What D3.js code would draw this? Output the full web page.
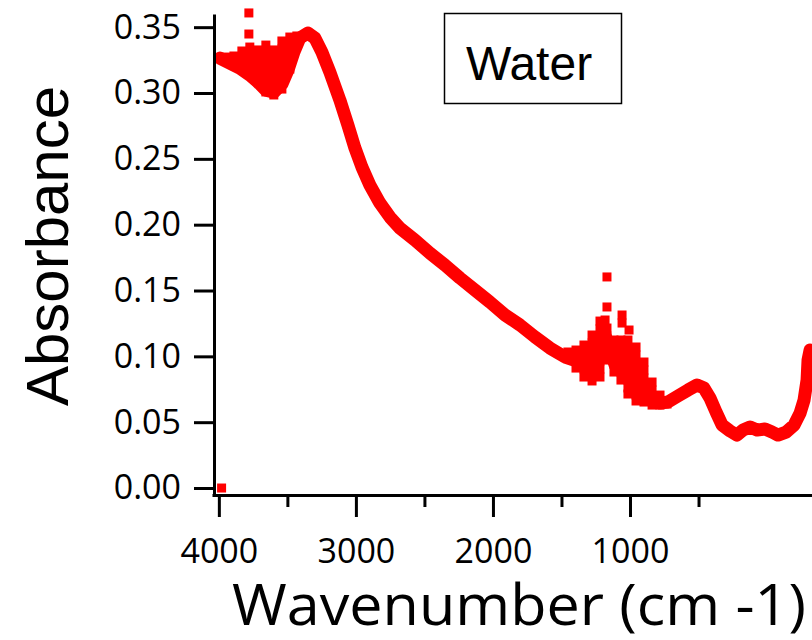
<!DOCTYPE html>
<html>
<head>
<meta charset="utf-8">
<script src="https://cdn.jsdelivr.net/npm/d3@7"></script>
<style>
  body { margin: 0; background: #fff; }
  svg { display: block; }
</style>
</head>
<body>
<div id="chart"></div>
<script>
// Absorbance spectrum of water
const mainWave = [3993, 3920, 3847, 3774, 3715, 3657, 3598, 3540, 3496, 3452, 3409, 3350,
    3299, 3248, 3190, 3117, 3058, 3007, 2956, 2898, 2825, 2752, 2679, 2569, 2460, 2350,
    2241, 2131, 2022, 1912, 1803, 1693, 1584, 1474, 1365, 1277, 1219, 1182, 1146, 1109,
    1058, 1000, 927, 854, 781, 723, 650, 577, 511, 460, 416, 372, 328, 270, 219, 175,
    124, 73, 15, -36, -80, -139, -197, -241, -270, -292, -299, -314];
const mainAbs = [0.3265, 0.3227, 0.3189, 0.3136, 0.3083, 0.3022, 0.3007, 0.3068, 0.3174,
    0.3311, 0.3417, 0.3455, 0.3417, 0.3311, 0.3159, 0.2946, 0.2756, 0.2582, 0.2437, 0.2301,
    0.2164, 0.2058, 0.1974, 0.1883, 0.1784, 0.1693, 0.1595, 0.1503, 0.1412, 0.1314, 0.1238,
    0.1147, 0.1063, 0.0995, 0.0957, 0.0957, 0.1048, 0.1162, 0.1048, 0.0934, 0.0881, 0.0835,
    0.0759, 0.0683, 0.0645, 0.0653, 0.0699, 0.0744, 0.0782, 0.0759, 0.0683, 0.0577, 0.0478,
    0.0433, 0.0402, 0.0440, 0.0463, 0.0440, 0.0448, 0.0425, 0.0402, 0.0425, 0.0478, 0.0569,
    0.0668, 0.0820, 0.0972, 0.1048];

// noisy points, O-H stretch region
const ohWave = [3949, 3890, 3890, 3832, 3832, 3832, 3774, 3774, 3774, 3774, 3781, 3781,
    3715, 3715, 3715, 3715, 3715, 3657, 3657, 3657, 3657, 3657, 3657, 3657,
    3599, 3599, 3599, 3599, 3599, 3599, 3599, 3540, 3540, 3540, 3540, 3540, 3540, 3540,
    3482, 3482, 3482, 3482, 3482, 3431, 3431];
const ohAbs = [0.3273, 0.3281, 0.3228, 0.3319, 0.3258, 0.3198, 0.3349, 0.3289, 0.3228,
    0.3167, 0.3448, 0.3608, 0.3327, 0.3266, 0.3205, 0.3144, 0.3084, 0.3364, 0.3304, 0.3243,
    0.3182, 0.3121, 0.3061, 0.3008, 0.3327, 0.3266, 0.3205, 0.3144, 0.3084, 0.3023, 0.2985,
    0.3395, 0.3334, 0.3273, 0.3213, 0.3152, 0.3091, 0.3030, 0.3425, 0.3364, 0.3304, 0.3243,
    0.3182, 0.3433, 0.3372];

// noisy points, H-O-H bend region
const bendWave = [1453, 1394, 1394, 1394, 1336, 1336, 1336, 1336, 1336, 1277, 1277, 1277,
    1277, 1277, 1277, 1277, 1219, 1219, 1219, 1219, 1219, 1219, 1219, 1219, 1168, 1168,
    1182, 1168, 1168, 1168, 1168, 1168, 1117, 1117, 1117, 1117, 1117, 1058, 1058, 1066,
    1066, 1066, 1066, 1066, 1066, 1007, 1015, 1015, 1015, 1015, 1015, 1015, 1015, 1015,
    956, 956, 956, 956, 956, 956, 956, 956, 898, 898, 898, 898, 898, 898, 839, 839, 839,
    839, 781, 781, 730];
const bendAbs = [0.1033, 0.1048, 0.0987, 0.0911, 0.1086, 0.1025, 0.0965, 0.0904, 0.0843,
    0.1162, 0.1101, 0.1041, 0.0980, 0.0919, 0.0858, 0.0813, 0.1268, 0.1208, 0.1147, 0.1086,
    0.1025, 0.0965, 0.0904, 0.0843, 0.1603, 0.1375, 0.1276, 0.1215, 0.1154, 0.1094, 0.1033,
    0.0972, 0.1124, 0.1063, 0.1003, 0.0942, 0.0881, 0.1314, 0.1253, 0.1124, 0.1063, 0.1003,
    0.0942, 0.0881, 0.0820, 0.1200, 0.1124, 0.1063, 0.1003, 0.0942, 0.0881, 0.0820, 0.0760,
    0.0714, 0.1071, 0.1010, 0.0949, 0.0889, 0.0828, 0.0767, 0.0706, 0.0661, 0.0957, 0.0896,
    0.0835, 0.0775, 0.0714, 0.0653, 0.0805, 0.0744, 0.0684, 0.0630, 0.0706, 0.0630, 0.0638];

// stray point at the start of the scan
const strayWave = [3980];
const strayAbs = [0.0];

const xMajor = [4000, 3000, 2000, 1000];
const xMinor = [3500, 2500, 1500, 500];
const yTicks = [0, 0.05, 0.10, 0.15, 0.20, 0.25, 0.30, 0.35];

const width = 812, height = 640;
const red = '#ff0000';

const svg = d3.select('#chart').append('svg')
    .attr('width', width)
    .attr('height', height);

svg.append('rect').attr('width', width).attr('height', height).attr('fill', '#fff');

const x = d3.scaleLinear().domain([4050, -328]).range([212, 812]);
const y = d3.scaleLinear().domain([-0.0053, 0.36]).range([495, 14]);

const mainData = mainWave.map((w, i) => ({w: w, a: mainAbs[i]}));
const noiseData = []
    .concat(ohWave.map((w, i) => ({w: w, a: ohAbs[i]})))
    .concat(bendWave.map((w, i) => ({w: w, a: bendAbs[i]})))
    .concat(strayWave.map((w, i) => ({w: w, a: strayAbs[i]})));

// thick band of the spectrum
const line = d3.line().x(d => x(d.w)).y(d => y(d.a));
svg.append('path')
    .datum(mainData)
    .attr('d', line)
    .attr('fill', 'none')
    .attr('stroke', red)
    .attr('stroke-width', 13)
    .attr('stroke-linejoin', 'round')
    .attr('stroke-linecap', 'round');

const sq = 9;
svg.append('g')
    .selectAll('rect')
    .data(noiseData)
    .enter().append('rect')
    .attr('x', d => x(d.w) - sq / 2)
    .attr('y', d => y(d.a) - sq / 2)
    .attr('width', sq)
    .attr('height', sq)
    .attr('fill', red);

// axes
const tickFont = "'Open Sans', sans-serif";

svg.append('g')
    .attr('transform', 'translate(0,495)')
    .call(d3.axisBottom(x).tickValues(xMajor).tickSize(22).tickSizeOuter(0)
        .tickPadding(22).tickFormat(d3.format('d')));

svg.append('g')
    .attr('transform', 'translate(0,495)')
    .call(d3.axisBottom(x).tickValues(xMinor).tickSize(12).tickSizeOuter(0)
        .tickFormat(''))
    .select('.domain').remove();

svg.append('g')
    .attr('transform', 'translate(214,0)')
    .call(d3.axisLeft(y).tickValues(yTicks).tickSize(20).tickSizeOuter(0)
        .tickPadding(13).tickFormat(d3.format('.2f')));

svg.selectAll('.domain, .tick line')
    .style('stroke', '#000')
    .style('stroke-width', '3px');

svg.selectAll('.tick text')
    .attr('fill', '#000')
    .style('font-family', tickFont)
    .style('font-size', '34px');

// axis titles
svg.append('text')
    .attr('x', 232)
    .attr('y', 625)
    .attr('textLength', 574)
    .attr('lengthAdjust', 'spacingAndGlyphs')
    .style('font-family', tickFont)
    .style('font-size', '56px')
    .attr('fill', '#000')
    .text('Wavenumber (cm -1)');

svg.append('text')
    .attr('transform', 'translate(68,246) rotate(-90)')
    .attr('text-anchor', 'middle')
    .style('font-family', "'Liberation Sans', Arial, sans-serif")
    .style('font-size', '60px')
    .attr('fill', '#000')
    .text('Absorbance');

// legend box
svg.append('rect')
    .attr('x', 444.5)
    .attr('y', 13.5)
    .attr('width', 177)
    .attr('height', 90)
    .attr('fill', '#fff')
    .attr('stroke', '#000')
    .attr('stroke-width', 1.5);

svg.append('text')
    .attr('x', 529)
    .attr('y', 80)
    .attr('text-anchor', 'middle')
    .style('font-family', "'Liberation Sans', Arial, sans-serif")
    .style('font-size', '48px')
    .attr('fill', '#000')
    .text('Water');
</script>
</body>
</html>
